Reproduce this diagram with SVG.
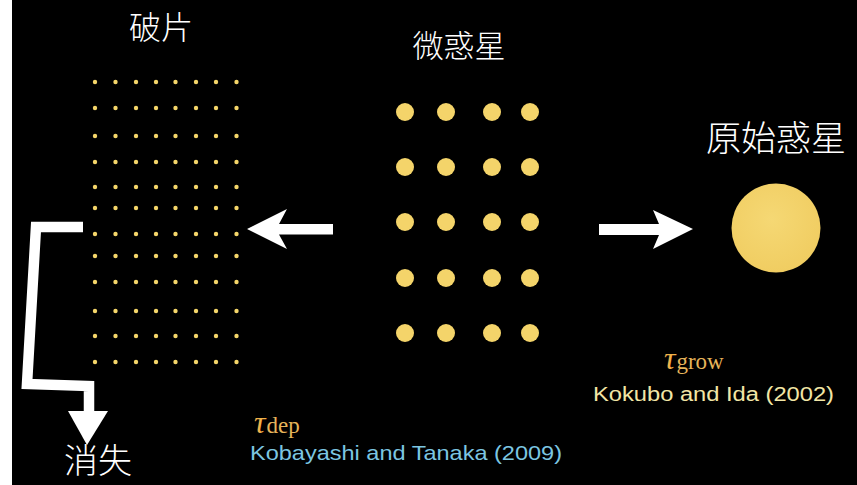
<svg xmlns="http://www.w3.org/2000/svg" width="857" height="485" viewBox="0 0 857 485">
<style>
.cjk{font-family:"Noto Sans CJK JP","Noto Sans CJK SC",sans-serif;fill:#ffffff;font-weight:300}
.sd{fill:#f5d66a}
.bd{fill:#f4d46a}
.tau{font-family:"Liberation Serif",serif;font-style:italic}
.sub{font-family:"Liberation Serif",serif}
.ref{font-family:"Liberation Sans",sans-serif}
.arrow{fill:#ffffff}
</style>
<defs>
<g id="row8">
<circle cx="95" cy="0" r="2.2"/><circle cx="115.5" cy="0" r="2.2"/><circle cx="136" cy="0" r="2.2"/><circle cx="156" cy="0" r="2.2"/><circle cx="175.5" cy="0" r="2.2"/><circle cx="196" cy="0" r="2.2"/><circle cx="216" cy="0" r="2.2"/><circle cx="236.5" cy="0" r="2.2"/>
</g>
<g id="row4">
<circle cx="405" cy="0" r="9"/><circle cx="446" cy="0" r="9"/><circle cx="492" cy="0" r="9"/><circle cx="530" cy="0" r="9"/>
</g>
<radialGradient id="pg" cx="0.45" cy="0.4" r="0.65">
<stop offset="0" stop-color="#f5d874"/>
<stop offset="1" stop-color="#f0cc60"/>
</radialGradient>
</defs>
<rect x="0" y="0" width="857" height="485" fill="#000000"/>
<rect x="0" y="0" width="12" height="485" fill="#ffffff"/>

<g id="debris">
<text class="cjk" x="161" y="39" font-size="32" text-anchor="middle">破片</text>
<g class="sd">
<use href="#row8" y="82"/><use href="#row8" y="108"/><use href="#row8" y="136"/><use href="#row8" y="162"/>
<use href="#row8" y="187"/><use href="#row8" y="208"/><use href="#row8" y="234"/><use href="#row8" y="256"/>
<use href="#row8" y="282"/><use href="#row8" y="311"/><use href="#row8" y="336"/><use href="#row8" y="362"/>
</g>
</g>

<g id="planetesimals">
<text class="cjk" x="459" y="57" font-size="31" text-anchor="middle">微惑星</text>
<g class="bd">
<use href="#row4" y="112"/><use href="#row4" y="167"/><use href="#row4" y="222"/><use href="#row4" y="278"/><use href="#row4" y="333"/>
</g>
</g>

<g id="protoplanet">
<text class="cjk" x="776" y="151" font-size="35" text-anchor="middle">原始惑星</text>
<circle cx="776" cy="228" r="44.5" fill="url(#pg)"/>
</g>

<g id="vanish">
<text class="cjk" x="98" y="473" font-size="34" text-anchor="middle">消失</text>
</g>

<g id="labels">
<text x="254" y="433" fill="#f0b24a"><tspan class="tau" font-size="32">τ</tspan><tspan class="sub" font-size="23" fill="#e6b45a" dx="1">dep</tspan></text>
<text class="ref" x="250" y="460" font-size="21" fill="#7cc6e2" textLength="312" lengthAdjust="spacingAndGlyphs">Kobayashi and Tanaka (2009)</text>
<text x="664" y="369" fill="#f0b24a"><tspan class="tau" font-size="32">τ</tspan><tspan class="sub" font-size="23" fill="#e6b45a" dx="1">grow</tspan></text>
<text class="ref" x="593" y="401" font-size="20" fill="#f2e6a6" textLength="241" lengthAdjust="spacingAndGlyphs">Kokubo and Ida (2002)</text>
</g>

<g id="connectors">
<path class="arrow" d="M247,229 L287,209 L279,224 L333,224 L333,234.5 L279,234.5 L287,249 Z"/>
<path class="arrow" d="M599,224 L659,224 L653,210 L693,229 L653,249 L659,235 L599,235 Z"/>
<polyline points="83,227 36,227 27,384 89,386 89,412" fill="none" stroke="#ffffff" stroke-width="10.5" stroke-linejoin="miter"/>
<path class="arrow" d="M68,411 L108,411 L87,445 Z"/>
</g>
</svg>
